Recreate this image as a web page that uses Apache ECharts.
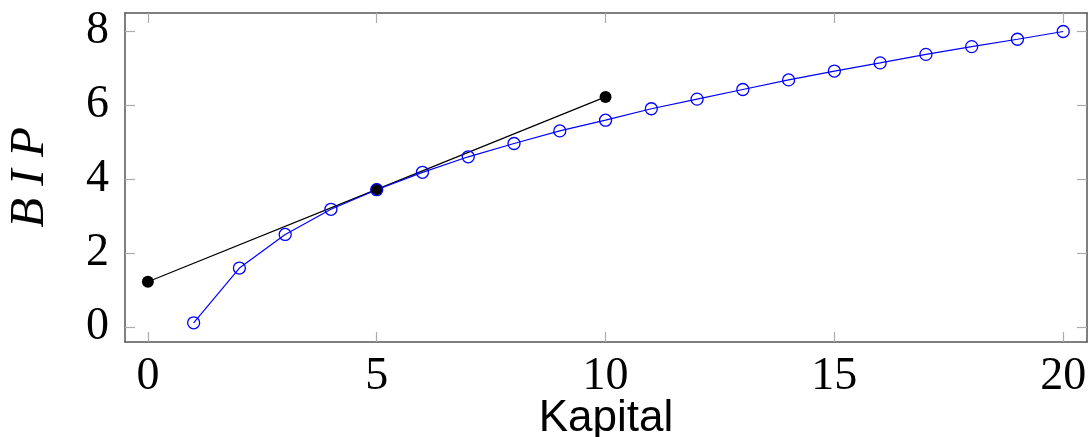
<!DOCTYPE html>
<html><head><meta charset="utf-8">
<script src="https://cdn.jsdelivr.net/npm/echarts@6/dist/echarts.min.js"></script>
<style>html,body{margin:0;padding:0;background:#fff}#c{width:1091px;height:437px}</style>
</head><body><div id="c"></div>
<script>
const kapital = [1,2,3,4,5,6,7,8,9,10,11,12,13,14,15,16,17,18,19,20];
const bip = [0.11,1.59,2.50,3.18,3.71,4.18,4.60,4.96,5.30,5.59,5.90,6.16,6.42,6.68,6.92,7.14,7.37,7.58,7.78,7.99];
const tangentX = [0,5,10];
const tangentY = [1.22,3.72,6.22];
const xTicks = [0,5,10,15,20];
const yTicks = [0,2,4,6,8];

const chart = echarts.init(document.getElementById('c'), null, {renderer:'canvas'});
const frame = () => ({show:true, onZero:false, lineStyle:{color:'#555', width:1.5}});
const tick = {show:true, inside:true, length:10, lineStyle:{color:'#aaa', width:1.2}};
const serif = 'Liberation Serif';
chart.setOption({
  animation:false,
  grid:{left:125, right:4, top:13, bottom:95, containLabel:false, outerBoundsMode:'none'},
  xAxis:[{
    type:'value', min:-0.5, max:20.52, position:'bottom',
    axisLine:frame(), splitLine:{show:false},
    axisTick:Object.assign({customValues:xTicks}, tick),
    axisLabel:{customValues:xTicks, fontFamily:serif, fontSize:46, color:'#000', margin:12},
    name:'Kapital', nameLocation:'middle', nameGap:55, nameMoveOverlap:false,
    nameTextStyle:{fontFamily:'Liberation Sans', fontSize:44, color:'#000'}
  },{
    type:'value', min:-0.5, max:20.52, position:'top',
    axisLine:frame(), splitLine:{show:false},
    axisTick:Object.assign({customValues:xTicks}, tick),
    axisLabel:{show:false}
  }],
  yAxis:[{
    type:'value', min:-0.41, max:8.49, position:'left',
    axisLine:frame(), splitLine:{show:false},
    axisTick:Object.assign({customValues:yTicks}, tick),
    axisLabel:{customValues:yTicks, fontFamily:serif, fontSize:46, color:'#000', margin:16},
    name:'B I P', nameLocation:'middle', nameGap:70, nameRotate:90, nameMoveOverlap:false,
    nameTextStyle:{fontFamily:serif, fontStyle:'italic', fontSize:49, color:'#000'}
  },{
    type:'value', min:-0.41, max:8.49, position:'right',
    axisLine:frame(), splitLine:{show:false},
    axisTick:Object.assign({customValues:yTicks}, tick),
    axisLabel:{show:false}
  }],
  series:[{
    type:'line', data:tangentX.map((x,i)=>[x,tangentY[i]]),
    symbol:'circle', symbolSize:12, itemStyle:{color:'#000'},
    lineStyle:{color:'#000', width:1.2}
  },{
    type:'line', data:kapital.map((x,i)=>[x,bip[i]]),
    symbol:'circle', symbolSize:12,
    itemStyle:{color:'rgba(255,255,255,0)', borderColor:'#0000ff', borderWidth:1.3},
    lineStyle:{color:'#0000ff', width:1.2}
  }]
});
</script></body></html>
